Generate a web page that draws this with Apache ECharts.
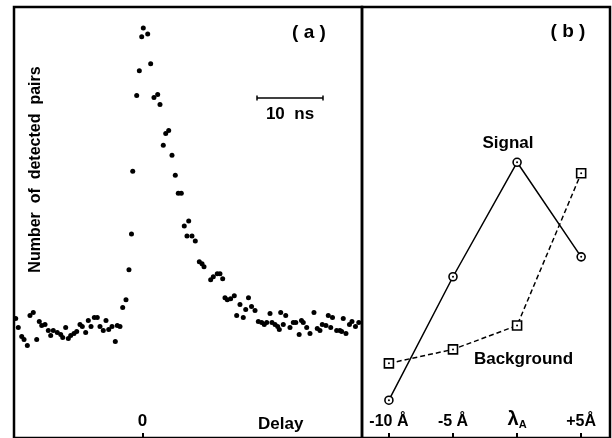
<!DOCTYPE html>
<html><head><meta charset="utf-8">
<script src="https://cdn.jsdelivr.net/npm/echarts@6/dist/echarts.min.js"></script>
<style>html,body{margin:0;padding:0;background:#fff}#c{width:612px;height:438px}</style>
</head><body><div id="c"></div>
<script>
// Panel (a): delay (ns) and number of detected pairs (arbitrary units)
const delayNs = [-19.21,-18.82,-18.30,-17.95,-17.45,-17.05,-16.55,-16.03,-15.64,-15.27,-14.77,-14.27,-13.91,-13.52,-12.91,-12.39,-12.09,-11.64,-11.24,-10.88,
 -10.38,-9.97,-9.47,-9.12,-8.61,-8.21,-7.80,-7.30,-6.85,-6.44,-5.94,-5.53,-5.12,-4.62,-4.12,-3.82,-3.41,-3.00,-2.50,-2.05,
 -1.67,-1.48,-0.88,-0.48,-0.12,0.12,0.79,1.24,1.74,2.30,2.65,3.15,3.52,3.97,4.47,4.97,5.42,5.88,6.33,6.74,
 7.00,7.50,8.00,8.61,9.02,9.32,10.33,10.73,11.33,11.74,12.15,12.50,12.85,13.36,13.91,14.27,14.77,15.27,15.64,16.06,
 16.52,17.05,17.55,18.06,18.45,18.82,19.32,19.62,20.08,20.48,20.73,20.94,21.33,21.70,22.35,22.85,23.23,23.74,24.09,24.36,
 24.88,25.38,25.98,26.48,26.89,27.24,27.80,28.15,28.52,28.79,29.42,29.92,30.18,30.42,30.83,31.36,31.74,32.27,32.77];
const pairCounts = [120,111,102,99,93,123,126,99,117,113,114,108,103,108,106,104,101,111,100,103,
 105,107,114,112,106,118,112,121,121,112,108,118,109,112,97,113,112,131,139,169,
 205,268,344,369,403,412,406,376,342,345,335,294,306,309,284,264,246,246,213,203,
 218,203,198,177,175,172,159,162,165,165,160,141,139,140,143,123,134,121,129,141,
 132,128,117,116,114,116,125,116,114,112,109,126,114,123,111,116,116,104,118,116,
 111,105,126,110,108,114,113,123,111,121,108,108,107,120,105,114,117,112,116];
const delayTicks = [0];

// Panel (b)
const wavelengths = ['-10 Å', '-5 Å', 'λ_A', '+5Å'];
const signal = [38, 162, 277, 182];
const background = [75, 89, 113, 266];

const FONT = 'Liberation Sans, Arial, Helvetica, sans-serif';
const chart = echarts.init(document.getElementById('c'));
const scatterData = delayNs.map((d, i) => [d, pairCounts[i]]);
const sigData = signal.map((v, i) => [i, v]);
const bgData = background.map((v, i) => [i, v]);

const tickCommon = { show: true, inside: true, length: 5, lineStyle: { color: '#000', width: 2 } };
const labelCommon = { inside: true, margin: 8, color: '#000', fontSize: 16, fontWeight: 'bold', fontFamily: FONT };

chart.setOption({
  animation: false,
  backgroundColor: '#fff',
  grid: [
    { left: 14, top: 7, width: 348, height: 433, show: true, borderColor: '#000', borderWidth: 2.5, backgroundColor: 'transparent' },
    { left: 362, top: 7, width: 248, height: 433, show: true, borderColor: '#000', borderWidth: 2.5, backgroundColor: 'transparent' }
  ],
  xAxis: [
    { gridIndex: 0, type: 'value', min: -19.47, max: 33.26,
      axisLine: { show: false }, splitLine: { show: false },
      axisTick: Object.assign({ customValues: delayTicks }, tickCommon),
      axisLabel: Object.assign({}, labelCommon, { customValues: delayTicks, fontSize: 17 }) },
    { gridIndex: 1, type: 'value', min: -0.42, max: 3.45,
      axisLine: { show: false }, splitLine: { show: false },
      axisTick: Object.assign({ customValues: [0, 1, 2, 3] }, tickCommon),
      axisLabel: Object.assign({}, labelCommon, {
        customValues: [0, 1, 2, 3],
        formatter: function (v) {
          const s = wavelengths[Math.round(v)];
          if (s.indexOf('_') >= 0) { const p = s.split('_'); return '{l|' + p[0] + '}{s|' + p[1] + '}'; }
          return s;
        },
        rich: {
          l: { fontSize: 20, fontWeight: 'bold', fontFamily: FONT, color: '#000' },
          s: { fontSize: 11, fontWeight: 'bold', fontFamily: FONT, color: '#000', padding: [10, 0, 0, 0] }
        }
      }) }
  ],
  yAxis: [
    { gridIndex: 0, type: 'value', min: 0, max: 433, show: false },
    { gridIndex: 1, type: 'value', min: 0, max: 433, show: false }
  ],
  series: [
    { type: 'scatter', xAxisIndex: 0, yAxisIndex: 0, data: scatterData, symbol: 'circle', symbolSize: 5,
      itemStyle: { color: '#000', opacity: 1 } },
    { type: 'line', name: 'Signal', xAxisIndex: 1, yAxisIndex: 1, data: sigData, symbol: 'circle', symbolSize: 8,
      lineStyle: { color: '#000', width: 1.5 }, itemStyle: { color: '#fff', borderColor: '#000', borderWidth: 1.6 }, z: 3 },
    { type: 'line', name: 'Background', xAxisIndex: 1, yAxisIndex: 1, data: bgData, symbol: 'rect', symbolSize: 9,
      lineStyle: { color: '#000', width: 1.5, type: [5, 3] }, itemStyle: { color: '#fff', borderColor: '#000', borderWidth: 1.6 }, z: 3 },
    { type: 'scatter', xAxisIndex: 1, yAxisIndex: 1, data: sigData.concat(bgData), symbol: 'circle', symbolSize: 2,
      itemStyle: { color: '#000', opacity: 1 }, z: 5 }
  ],
  graphic: [
    { type: 'text', x: 309, y: 33, style: { text: '( a )', font: 'bold 19px ' + FONT, fill: '#000', align: 'center', verticalAlign: 'middle' } },
    { type: 'text', x: 568, y: 32, style: { text: '( b )', font: 'bold 19px ' + FONT, fill: '#000', align: 'center', verticalAlign: 'middle' } },
    { type: 'text', x: 35.5, y: 169.5, rotation: Math.PI / 2, style: { text: 'Number  of  detected  pairs', font: 'bold 16px ' + FONT, fill: '#000', align: 'center', verticalAlign: 'middle' } },
    { type: 'text', x: 280.7, y: 424, style: { text: 'Delay', font: 'bold 17px ' + FONT, fill: '#000', align: 'center', verticalAlign: 'middle' } },
    { type: 'text', x: 290, y: 114, style: { text: '10  ns', font: 'bold 17px ' + FONT, fill: '#000', align: 'center', verticalAlign: 'middle' } },
    { type: 'text', x: 508, y: 143, style: { text: 'Signal', font: 'bold 17px ' + FONT, fill: '#000', align: 'center', verticalAlign: 'middle' } },
    { type: 'text', x: 523.5, y: 359.5, style: { text: 'Background', font: 'bold 17px ' + FONT, fill: '#000', align: 'center', verticalAlign: 'middle' } },
    { type: 'line', shape: { x1: 257, y1: 98, x2: 323, y2: 98 }, style: { stroke: '#000', lineWidth: 1.5 } },
    { type: 'line', shape: { x1: 257, y1: 95.5, x2: 257, y2: 100.5 }, style: { stroke: '#000', lineWidth: 1.5 } },
    { type: 'line', shape: { x1: 323, y1: 95.5, x2: 323, y2: 100.5 }, style: { stroke: '#000', lineWidth: 1.5 } }
  ]
});
</script>
</body></html>
